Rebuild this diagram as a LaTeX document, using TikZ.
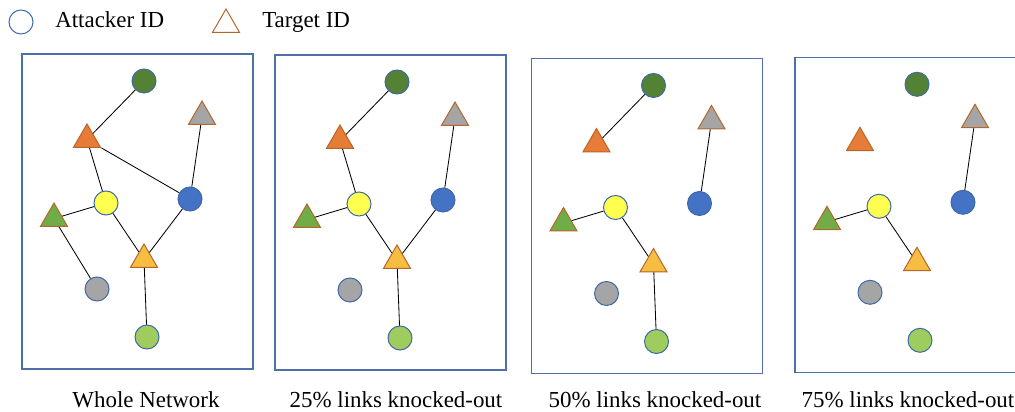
\documentclass[tikz,border=0pt]{standalone}
\usepackage{fontspec}
\setmainfont{Liberation Serif}
\usetikzlibrary{shapes.geometric}

\definecolor{darkgreen}{HTML}{548235}
\definecolor{orangetri}{HTML}{E67C38}
\definecolor{graynode}{HTML}{A5A5A5}
\definecolor{yellownode}{HTML}{FFFF50}
\definecolor{bluenode}{HTML}{4472C4}
\definecolor{greentri}{HTML}{70AD47}
\definecolor{goldtri}{HTML}{F5BD41}
\definecolor{lightgreen}{HTML}{9FCC5F}
\definecolor{circleline}{HTML}{3F68A8}
\definecolor{triline}{HTML}{B8652A}
\definecolor{boxline}{HTML}{4F6FA8}

\begin{document}
\begin{tikzpicture}[x=0.025cm, y=-0.025cm,
    attacker/.style ={circle, draw=circleline, line width=0.7pt, minimum size=6mm, inner sep=0pt},
    target/.style ={regular polygon, regular polygon sides=3, draw=triline, line width=0.7pt, minimum size=7.8mm, inner sep=0pt},
    link/.style ={line width=0.6pt},
    panel/.style ={draw=boxline, line width=0.8pt},
    caption/.style ={anchor=base, inner sep=0pt, font=\fontsize{16.3}{19}\selectfont}]
   \clip (0,0) rectangle (1015,412);

   % legend
   \node[attacker, fill=white] (keyA) at (21,22) {};
   \node[caption, anchor=base west] (keyAtext) at (55,28) {Attacker ID};
   \node[target, fill=white] (keyT) at (226,24.6) {};
   \node[caption, anchor=base west] (keyTtext) at (262,28) {Target ID};

   % the four networks
   \foreach \p/\dx/\dy/\cx/\txt in {w/0/0/146/Whole Network,
       a/253/1/396/25\% links knocked-out,
       b/509.5/4.5/655/50\% links knocked-out,
       c/773/3.3/908/75\% links knocked-out} {
     \begin{scope}[shift={(\dx,\dy)}]
       \draw[panel] (22,54) rectangle (253,369);
       \node[attacker, fill=darkgreen] (\p-dg) at (144,81) {};
       \node[target, fill=orangetri] (\p-or) at (87,139.6) {};
       \node[target, fill=graynode] (\p-gt) at (202,116.6) {};
       \node[attacker, fill=yellownode] (\p-ye) at (106,203) {};
       \node[attacker, fill=bluenode] (\p-bl) at (190,199) {};
       \node[target, fill=greentri] (\p-gr) at (54,218.6) {};
       \node[target, fill=goldtri] (\p-go) at (144,259.6) {};
       \node[attacker, fill=graynode] (\p-gc) at (97,289) {};
       \node[attacker, fill=lightgreen] (\p-lg) at (147,337) {};
     \end{scope}
     \node[caption] (\p-cap) at (\cx,408) {\txt};
   }

   \draw[link] (w-dg) -- (w-or) (w-or) -- (w-ye) (w-or) -- (w-bl)
               (w-gt) -- (w-bl) (w-ye) -- (w-gr) (w-ye) -- (w-go)
               (w-bl) -- (w-go) (w-gr) -- (w-gc) (w-go) -- (w-lg);
   \draw[link] (a-dg) -- (a-or) (a-or) -- (a-ye) (a-gt) -- (a-bl)
               (a-ye) -- (a-gr) (a-ye) -- (a-go) (a-bl) -- (a-go)
               (a-go) -- (a-lg);
   \draw[link] (b-dg) -- (b-or) (b-gt) -- (b-bl) (b-ye) -- (b-gr)
               (b-ye) -- (b-go) (b-go) -- (b-lg);
   \draw[link] (c-gt) -- (c-bl) (c-ye) -- (c-gr) (c-ye) -- (c-go);
\end{tikzpicture}
\end{document}
